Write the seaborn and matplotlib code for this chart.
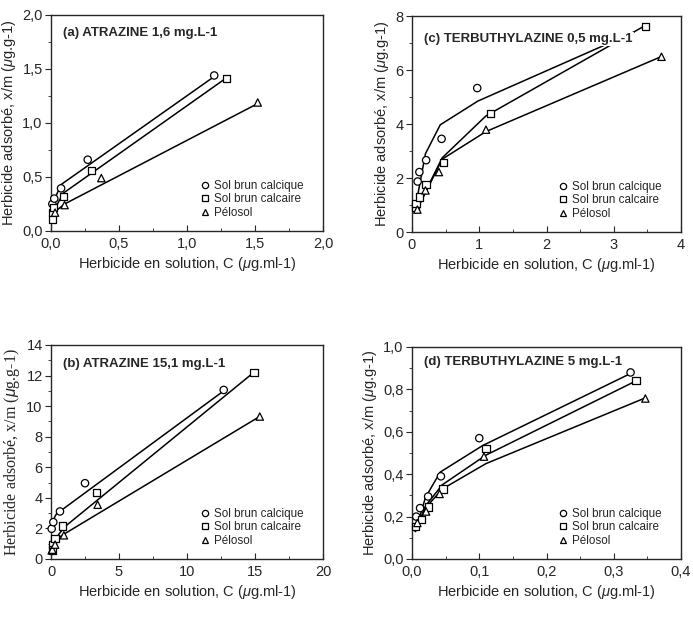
import numpy as np
import pandas as pd
import seaborn as sns
import matplotlib.pyplot as plt
from matplotlib.ticker import MultipleLocator, FuncFormatter

# ---- data ----
SOILS = ["Sol brun calcique", "Sol brun calcaire", "Pélosol"]

# (a) atrazine 1,6 mg/L
a_calcique_x = [0.01, 0.024, 0.074, 0.27, 1.20]
a_calcique_y = [0.25, 0.30, 0.395, 0.66, 1.44]
a_calcaire_x = [0.01, 0.01, 0.02, 0.09, 0.30, 1.29]
a_calcaire_y = [0.11, 0.17, 0.22, 0.32, 0.56, 1.41]
a_pelosol_x = [0.03, 0.10, 0.37, 1.52]
a_pelosol_y = [0.17, 0.24, 0.49, 1.19]
a_fit_calcique = ([0.0, 0.074, 1.20], [0.22, 0.43, 1.43])
a_fit_calcaire = ([0.0, 0.09, 1.27], [0.14, 0.35, 1.40])
a_fit_pelosol = ([0.0, 0.10, 1.52], [0.15, 0.25, 1.18])

# (b) atrazine 15,1 mg/L
b_calcique_x = [0.05, 0.17, 0.66, 2.5, 12.7]
b_calcique_y = [1.98, 2.41, 3.11, 4.96, 11.06]
b_calcaire_x = [0.09, 0.12, 0.29, 0.86, 3.35, 14.93]
b_calcaire_y = [0.93, 0.60, 1.33, 2.17, 4.35, 12.21]
b_pelosol_x = [0.05, 0.10, 0.30, 0.95, 3.43, 15.35]
b_pelosol_y = [0.56, 0.61, 0.94, 1.55, 3.55, 9.32]
b_fit_calcique = ([0.0, 0.4, 12.7], [2.3, 2.95, 11.0])
b_fit_calcaire = ([0.05, 0.3, 1.0, 14.9], [0.7, 1.3, 2.1, 12.2])
b_fit_pelosol = ([0.05, 0.3, 1.0, 15.3], [0.6, 1.25, 1.65, 9.3])

# (c) terbuthylazine 0,5 mg/L
c_calcique_x = [0.084, 0.11, 0.21, 0.44, 0.97]
c_calcique_y = [1.87, 2.22, 2.66, 3.45, 5.33]
c_calcaire_x = [0.05, 0.06, 0.11, 0.21, 0.47, 1.17, 3.47]
c_calcaire_y = [0.92, 1.05, 1.29, 1.75, 2.58, 4.40, 7.61]
c_pelosol_x = [0.08, 0.20, 0.40, 1.10, 3.71]
c_pelosol_y = [0.83, 1.54, 2.22, 3.79, 6.49]
c_fit_calcique = ([0.08, 0.2, 0.42, 0.98, 3.3], [1.3, 2.9, 3.97, 4.85, 7.4])
c_fit_calcaire = ([0.05, 0.45, 1.1, 3.47], [0.75, 2.75, 4.3, 7.65])
c_fit_pelosol = ([0.05, 0.45, 1.1, 3.71], [0.7, 2.7, 3.72, 6.5])

# (d) terbuthylazine 5 mg/L
d_calcique_x = [0.0064, 0.012, 0.024, 0.043, 0.10, 0.325]
d_calcique_y = [0.20, 0.24, 0.295, 0.39, 0.57, 0.88]
d_calcaire_x = [0.005, 0.014, 0.025, 0.046, 0.11, 0.333]
d_calcaire_y = [0.154, 0.185, 0.245, 0.33, 0.52, 0.843]
d_pelosol_x = [0.008, 0.021, 0.041, 0.107, 0.347]
d_pelosol_y = [0.17, 0.224, 0.307, 0.483, 0.757]
d_fit_calcique = ([0.005, 0.02, 0.042, 0.105, 0.325], [0.13, 0.29, 0.41, 0.535, 0.875])
d_fit_calcaire = ([0.005, 0.02, 0.045, 0.11, 0.333], [0.13, 0.25, 0.35, 0.49, 0.84])
d_fit_pelosol = ([0.005, 0.02, 0.045, 0.11, 0.347], [0.13, 0.24, 0.33, 0.45, 0.76])

PANELS = [
    dict(title="(a) ATRAZINE 1,6 mg.L-1", pts=[(a_calcique_x, a_calcique_y), (a_calcaire_x, a_calcaire_y), (a_pelosol_x, a_pelosol_y)],
         fits=[a_fit_calcique, a_fit_calcaire, a_fit_pelosol], xlim=(0, 2), ylim=(0, 2), xmaj=0.5, ymaj=0.5, dec=1,
         serif=False, ty=0.917),
    dict(title="(c) TERBUTHYLAZINE 0,5 mg.L-1", pts=[(c_calcique_x, c_calcique_y), (c_calcaire_x, c_calcaire_y), (c_pelosol_x, c_pelosol_y)],
         fits=[c_fit_calcique, c_fit_calcaire, c_fit_pelosol], xlim=(0, 4), ylim=(0, 8), xmaj=1, ymaj=2, dec=0,
         serif=False, ty=0.894),
    dict(title="(b) ATRAZINE 15,1 mg.L-1", pts=[(b_calcique_x, b_calcique_y), (b_calcaire_x, b_calcaire_y), (b_pelosol_x, b_pelosol_y)],
         fits=[b_fit_calcique, b_fit_calcaire, b_fit_pelosol], xlim=(0, 20), ylim=(0, 14), xmaj=5, ymaj=2, dec=0,
         serif=True, ty=0.911),
    dict(title="(d) TERBUTHYLAZINE 5 mg.L-1", pts=[(d_calcique_x, d_calcique_y), (d_calcaire_x, d_calcaire_y), (d_pelosol_x, d_pelosol_y)],
         fits=[d_fit_calcique, d_fit_calcaire, d_fit_pelosol], xlim=(0, 0.4), ylim=(0, 1.0), xmaj=0.1, ymaj=0.2, dec=1,
         serif=False, ty=0.929),
]

# axes boxes in pixels: left, top, right, bottom
BOXES = [(51, 15, 323, 231), (412, 16, 681, 232), (51, 345, 323, 559), (412, 347, 681, 559)]
W, H = 693, 622

sns.set_style("ticks")
plt.rcParams["font.family"] = ["Liberation Sans", "DejaVu Sans"]
plt.rcParams["mathtext.fontset"] = "custom"
plt.rcParams["mathtext.it"] = "Liberation Sans:italic"

fig = plt.figure(figsize=(W / 100, H / 100), dpi=100)

markers = ["o", "s", "^"]


def comma(dec):
    return FuncFormatter(lambda v, _: f"{v:.{dec}f}".replace(".", ","))


for p, (l, t, r, b) in zip(PANELS, BOXES):
    ax = fig.add_axes([l / W, 1 - b / H, (r - l) / W, (b - t) / H])
    frames = []
    for soil, (xs, ys) in zip(SOILS, p["pts"]):
        frames.append(pd.DataFrame({"C": xs, "xm": ys, "sol": soil}))
    df = pd.concat(frames, ignore_index=True)

    for (fx, fy) in p["fits"]:
        sns.lineplot(x=fx, y=fy, ax=ax, color="black", lw=1.1, sort=False,
                     estimator=None, zorder=2)
    sns.scatterplot(data=df, x="C", y="xm", style="sol", markers=dict(zip(SOILS, markers)),
                    s=28, facecolor="white", edgecolor="black", linewidth=0.9,
                    ax=ax, zorder=3, legend=True, clip_on=False)

    ax.set_xlim(*p["xlim"])
    ax.set_ylim(*p["ylim"])
    ax.xaxis.set_major_locator(MultipleLocator(p["xmaj"]))
    ax.xaxis.set_minor_locator(MultipleLocator(p["xmaj"] / 2))
    ax.yaxis.set_major_locator(MultipleLocator(p["ymaj"]))
    ax.yaxis.set_minor_locator(MultipleLocator(p["ymaj"] / 2))
    xdec = 1 if p["xmaj"] < 1 else 0
    ax.xaxis.set_major_formatter(comma(xdec))
    ax.yaxis.set_major_formatter(comma(p["dec"]))
    ax.tick_params(axis="x", which="major", direction="in", length=4, width=0.8, labelsize=10.5, pad=4)
    ax.tick_params(axis="x", which="minor", direction="in", length=2.5, width=0.6)
    ax.tick_params(axis="y", which="major", direction="out", length=4, width=0.8, labelsize=10.5, pad=2)
    ax.tick_params(axis="y", which="minor", direction="out", length=2, width=0.6)
    for s in ax.spines.values():
        s.set_linewidth(1.0)
        s.set_visible(True)

    ax.set_xlabel(r"Herbicide en solution, C ($\mathit{\mu}$g.ml-1)", fontsize=10.5, labelpad=3)
    if p["serif"]:
        ax.set_ylabel(r"Herbicide adsorbé, x/m ($\mu$g.g-1)", fontsize=11.5,
                      family="Liberation Serif", labelpad=3)
    else:
        ax.set_ylabel(r"Herbicide adsorbé, x/m ($\mathit{\mu}$g.g-1)", fontsize=10.5, labelpad=3)

    ax.text(0.045, p["ty"], p["title"], transform=ax.transAxes, fontsize=9.5, fontweight="bold",
            ha="left", va="center", zorder=5,
            bbox=dict(facecolor="white", edgecolor="none", pad=0.8))

    leg = ax.legend(loc="lower right", bbox_to_anchor=(0.955, 0.025), frameon=False,
                    fontsize=8.4, handlelength=0.8, handletextpad=0.4, labelspacing=0.12,
                    borderaxespad=0.2)
    for h in leg.legend_handles:
        h.set_markersize(4.5)

fig.savefig("out.png", dpi=100)
